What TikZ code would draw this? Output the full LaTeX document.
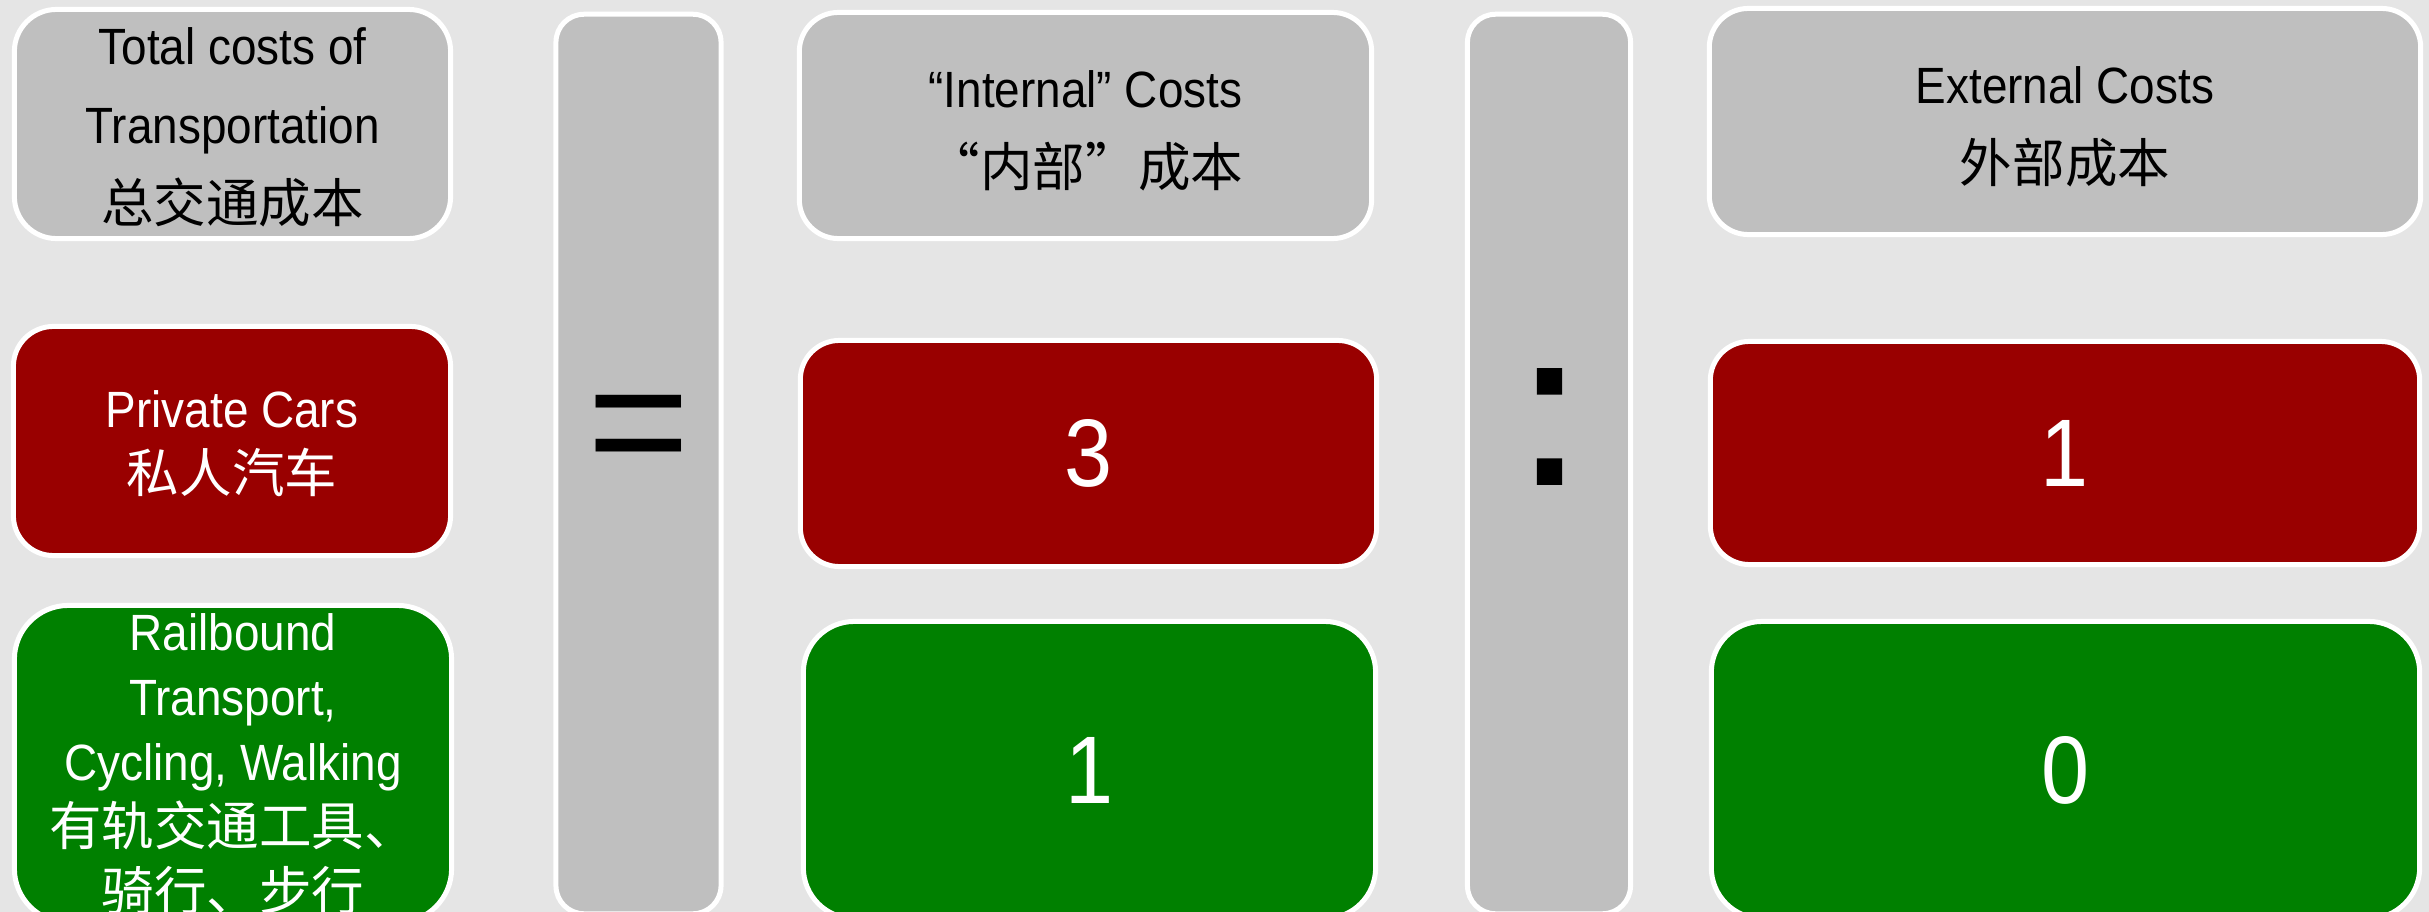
\documentclass[tikz,border=0pt]{standalone}
\usepackage{fontspec}
\setmainfont[FakeStretch=0.9]{Liberation Sans}
\newfontfamily\cjk[Scale=1.03]{Noto Sans CJK SC}
\newfontfamily\symfont{Liberation Sans}
\newfontfamily\colfont[FakeBold=2.5]{Liberation Sans}
\definecolor{bg}{HTML}{E5E5E5}
\definecolor{boxgray}{HTML}{BFBFBF}
\definecolor{carred}{HTML}{990000}
\definecolor{railgreen}{HTML}{008000}
\tikzset{
  basebox/.style={draw=white, line width=0.05cm, inner sep=0pt, outer sep=0pt, rectangle},
  graybox/.style={basebox, fill=boxgray},
  barbox/.style={basebox, fill=boxgray, minimum width=1.65cm, minimum height=8.99cm, rounded corners=0.28cm},
  redbox/.style={basebox, fill=carred},
  greenbox/.style={basebox, fill=railgreen},
  hdrtext/.style={align=center, inner sep=0pt, text=black, font=\fontsize{14.5}{22.5}\selectfont},
  rowtext/.style={align=center, inner sep=0pt, text=white, font=\fontsize{14.5}{18.5}\selectfont},
  numtext/.style={inner sep=0pt, text=white, font=\fontsize{27.3}{30}\selectfont},
  symtext/.style={inner sep=0pt, text=black}
}
\begin{document}
\begin{tikzpicture}[x=0.01cm,y=-0.01cm]
\useasboundingbox[fill=bg] (0,0) rectangle (2429,912);
\clip (0,0) rectangle (2429,912);
% header row
\node[graybox, minimum width=4.36cm, minimum height=2.29cm, rounded corners=0.42cm] (tc) at (232.5,124) {};
\node[hdrtext] (tctext) at ([yshift=-0.85pt]tc.center) {Total costs of\\Transportation\\{\cjk 总交通成本}};
\node[graybox, minimum width=5.72cm, minimum height=2.26cm, rounded corners=0.39cm] (ic) at (1085.5,125.5) {};
\node[hdrtext] (ictext) at ([yshift=-1.4pt]ic.center) {“Internal” Costs\\{\cjk “内部”成本}};
\node[graybox, minimum width=7.11cm, minimum height=2.26cm, rounded corners=0.39cm] (ec) at (2065,121.5) {};
\node[hdrtext] (ectext) at ([yshift=-1.4pt]ec.center) {External Costs\\{\cjk 外部成本}};
% operator bars
\node[barbox] (eqbar) at (638.5,464) {};
\node[barbox, minimum width=1.63cm] (colbar) at (1549,464) {};
\node[symtext, font=\symfont\fontsize{50}{50}\selectfont] (eq) at (639,438) {=};
\node[symtext, font=\colfont\fontsize{60}{60}\selectfont] (col) at (1549.5,426.5) {:};
% private cars row
\node[redbox, minimum width=4.37cm, minimum height=2.29cm, rounded corners=0.40cm] (pc) at (232,441) {};
\node[rowtext] (pctext) at ([yshift=-0.85pt]pc.center) {Private Cars\\{\cjk 私人汽车}};
\node[redbox, minimum width=5.76cm, minimum height=2.26cm, rounded corners=0.39cm] (pci) at (1088.5,453.5) {};
\node[numtext] (pcitext) at (pci.center) {3};
\node[redbox, minimum width=7.09cm, minimum height=2.23cm, rounded corners=0.39cm] (pce) at (2065,453) {};
\node[numtext] (pcetext) at (pce.center) {1};
% rail row
\node[greenbox, minimum width=4.37cm, minimum height=3.17cm, rounded corners=0.54cm] (rb) at (233,764) {};
\node[rowtext] (rbtext) at (rb.center) {Railbound\\Transport,\\Cycling, Walking\\{\cjk 有轨交通工具、}\\{\cjk 骑行、步行}};
\node[greenbox, minimum width=5.72cm, minimum height=2.97cm, rounded corners=0.51cm] (rbi) at (1089.5,770) {};
\node[numtext] (rbitext) at (rbi.center) {1};
\node[greenbox, minimum width=7.08cm, minimum height=2.97cm, rounded corners=0.51cm] (rbe) at (2065.5,770) {};
\node[numtext] (rbetext) at (rbe.center) {0};
\end{tikzpicture}
\end{document}
